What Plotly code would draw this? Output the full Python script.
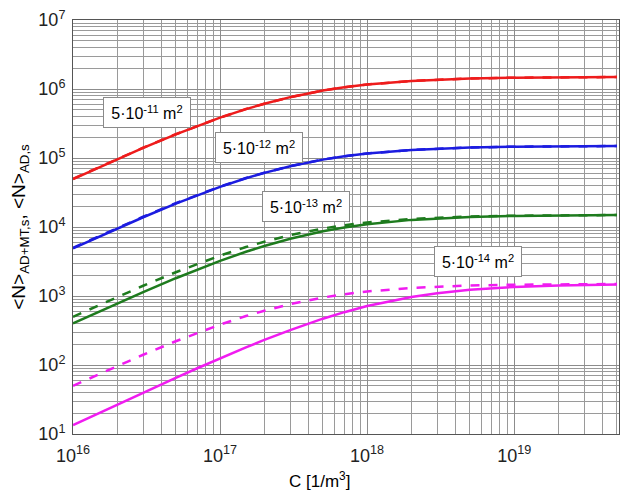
import math
import plotly.graph_objects as go

# Concentration values C [1/m^3]
C = [1e16, 1.5e16, 2e16, 3e16, 5e16, 7e16, 1e17, 1.5e17, 2e17, 3e17, 5e17, 7e17,
     1e18, 2e18, 3e18, 5e18, 1e19, 2e19, 5e19]

# 5e-11 m^2 (red) – solid and dashed coincide
red_ad = [5.0e4, 7.38e4, 9.68e4, 1.407e5, 2.21e5, 2.92e5, 3.85e5, 5.12e5, 6.12e5, 7.63e5,
          9.5e5, 1.061e6, 1.163e6, 1.31e6, 1.368e6, 1.418e6, 1.458e6, 1.479e6, 1.491e6]
red_admt = [4.95e4, 7.3e4, 9.6e4, 1.397e5, 2.2e5, 2.91e5, 3.84e5, 5.11e5, 6.11e5, 7.62e5,
            9.49e5, 1.06e6, 1.162e6, 1.309e6, 1.367e6, 1.418e6, 1.458e6, 1.479e6, 1.491e6]

# 5e-12 m^2 (blue)
blue_ad = [5.0e3, 7.38e3, 9.68e3, 1.407e4, 2.21e4, 2.92e4, 3.85e4, 5.12e4, 6.12e4, 7.63e4,
           9.5e4, 1.061e5, 1.163e5, 1.31e5, 1.368e5, 1.418e5, 1.458e5, 1.479e5, 1.491e5]
blue_admt = [4.9e3, 7.25e3, 9.5e3, 1.385e4, 2.18e4, 2.89e4, 3.82e4, 5.09e4, 6.09e4, 7.6e4,
             9.47e4, 1.058e5, 1.161e5, 1.309e5, 1.367e5, 1.417e5, 1.458e5, 1.479e5, 1.491e5]

# 5e-13 m^2 (green)
green_ad = [500, 738, 968, 1407, 2210, 2920, 3850, 5120, 6120, 7630, 9500, 10610,
            11630, 13100, 13680, 14180, 14580, 14790, 14910]
green_admt = [400, 592, 779, 1140, 1810, 2416, 3229, 4373, 5308, 6766, 8676, 9862,
              10991, 12684, 13375, 13982, 14474, 14735, 14888]

# 5e-14 m^2 (magenta)
mag_ad = [50, 73.8, 96.8, 140.7, 221, 292, 385, 512, 612, 763, 950, 1061,
          1163, 1310, 1368, 1418, 1458, 1479, 1491]
mag_admt = [13.5, 20.2, 26.8, 39.8, 65.2, 89.7, 125, 180, 231, 321, 469, 583,
            714, 968, 1097, 1230, 1351, 1422, 1467]

# Tick labels
x_tickvals = [1e16, 1e17, 1e18, 1e19]
x_ticktext = ["10<sup>16</sup>", "10<sup>17</sup>", "10<sup>18</sup>", "10<sup>19</sup>"]
y_tickvals = [1e1, 1e2, 1e3, 1e4, 1e5, 1e6, 1e7]
y_ticktext = ["10<sup>1</sup>", "10<sup>2</sup>", "10<sup>3</sup>", "10<sup>4</sup>",
              "10<sup>5</sup>", "10<sup>6</sup>", "10<sup>7</sup>"]

labels = ["5·10<sup>-11</sup> m<sup>2</sup>", "5·10<sup>-12</sup> m<sup>2</sup>",
          "5·10<sup>-13</sup> m<sup>2</sup>", "5·10<sup>-14</sup> m<sup>2</sup>"]
label_x = [3.2e16, 1.85e17, 3.85e17, 5.7e18]
label_y = [4.6e5, 1.4e5, 1.95e4, 3.2e3]

colors = ["#ee1c1c", "#1c1ce0", "#1e7b1e", "#f01cf0"]
series = [(red_ad, red_admt), (blue_ad, blue_admt), (green_ad, green_admt), (mag_ad, mag_admt)]

FONT = "Liberation Sans, Arial"

fig = go.Figure()
for (ad, admt), col in zip(series, colors):
    fig.add_trace(go.Scatter(x=C, y=ad, mode="lines",
                             line=dict(color=col, width=2.5, dash="dash"), showlegend=False))
    fig.add_trace(go.Scatter(x=C, y=admt, mode="lines",
                             line=dict(color=col, width=2.5), showlegend=False))

for txt, lx, ly in zip(labels, label_x, label_y):
    fig.add_annotation(x=math.log10(lx), y=math.log10(ly), xref="x", yref="y",
                       text=txt, showarrow=False, bgcolor="white",
                       bordercolor="#8a8a8a", borderwidth=1, borderpad=3,
                       width=80, height=23,
                       font=dict(family=FONT, size=16, color="black"))

# x-axis title (placed slightly left of centre as in the reference)
fig.add_annotation(x=0.452, y=0, xref="paper", yref="paper", yshift=-46,
                   text="C [1/m<sup>3</sup>]", showarrow=False, yanchor="middle",
                   font=dict(family=FONT, size=17, color="black"))

axis_common = dict(
    type="log", showline=True, mirror=True,
    linecolor="#555555", linewidth=1, showgrid=True, gridcolor="#8c8c8c", gridwidth=1,
    ticks="", zeroline=False, automargin=False,
    tickfont=dict(family=FONT, size=18, color="#222222"),
    minor=dict(dtick="D1", showgrid=True, gridcolor="#9a9a9a", gridwidth=1, ticks=""),
)

fig.update_xaxes(**axis_common, range=[16, 19.713], ticklabelstandoff=5,
                 tickmode="array", tickvals=x_tickvals, ticktext=x_ticktext)
fig.update_yaxes(**axis_common, range=[1, 7], ticklabelstandoff=3,
                 tickmode="array", tickvals=y_tickvals, ticktext=y_ticktext,
                 title=dict(text="&lt;N&gt;<sub>AD+MT,s</sub>, &lt;N&gt;<sub>AD,s</sub>", standoff=7,
                            font=dict(family=FONT, size=19, color="black")))

fig.update_layout(width=620, height=490, margin=dict(l=73, r=1, t=20, b=56),
                  plot_bgcolor="white", paper_bgcolor="white")

fig.write_html("out.html", config={"displayModeBar": False},
               post_script="document.body.style.margin='0';document.body.style.overflow='hidden';")
